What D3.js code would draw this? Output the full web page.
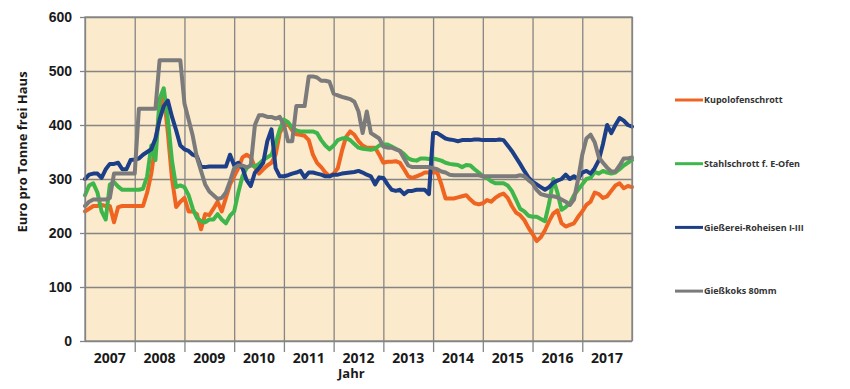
<!DOCTYPE html>
<html>
<head>
<meta charset="utf-8">
<script src="https://cdn.jsdelivr.net/npm/d3@7"></script>
<style>
  body { margin: 0; background: #fff; }
  svg { display: block; font-family: "Open Sans", "DejaVu Sans", sans-serif; }
  .axis text { font-size: 14px; font-weight: 700; fill: #1a1a1a; }
  .axis text.ylabel { font-size: 13px; }
  .axis path.domain { display: none; }
  .grid line { stroke: #858585; stroke-width: 1.3; }
  .grid path.domain { display: none; }
  .series { fill: none; stroke-width: 4; stroke-linejoin: round; stroke-linecap: round; }
  .legend text { font-size: 9px; font-weight: 700; fill: #333; }
</style>
</head>
<body>
<div id="chart"></div>
<script>
// monthly values, Jan 2007 .. Jan 2018 (Euro pro Tonne frei Haus)
var years = ['2007','2008','2009','2010','2011','2012','2013','2014','2015','2016','2017'];

var kupolofen = [
  240,245,250,250,252,250,250,220,248,250,250,250,
  250,250,250,275,310,365,425,458,385,300,248,258,
  265,240,240,235,207,235,233,245,258,240,265,290,
  305,320,340,345,340,322,310,318,325,330,345,385,
  400,402,390,383,382,380,372,345,330,322,312,305,
  310,320,352,378,388,382,370,362,358,358,358,345,
  330,332,332,333,330,318,305,302,305,308,312,312,
  312,312,290,264,264,264,266,268,270,262,255,253,
  255,261,258,265,270,273,265,250,238,233,224,210,
  198,185,192,205,222,236,242,218,212,215,218,230,
  240,252,258,275,272,265,268,278,288,292,283,287,
  285];

var stahlschrott = [
  270,288,292,275,240,225,290,294,286,280,280,280,
  280,280,282,305,362,335,448,468,410,333,285,288,
  285,270,245,228,222,220,225,225,235,225,218,232,
  240,275,305,320,326,323,328,335,340,345,365,392,
  410,405,395,390,388,388,388,388,385,372,362,355,
  362,372,375,376,372,365,358,356,355,354,356,362,
  364,364,360,356,352,346,338,335,334,338,338,337,
  338,336,334,330,328,327,326,322,326,325,318,312,
  305,302,296,292,292,292,288,278,262,245,240,232,
  230,230,226,222,255,300,275,243,248,255,270,280,
  290,300,302,313,310,315,312,310,312,318,325,330,
  335];

var roheisen = [
  300,308,310,310,302,318,328,328,330,318,318,335,
  336,338,345,350,355,375,410,435,445,415,390,362,
  355,352,345,342,322,322,323,323,323,323,323,345,
  325,330,320,298,287,312,320,330,370,392,320,305,
  305,307,310,312,315,303,312,312,310,308,305,305,
  308,308,310,311,312,313,315,312,308,305,290,303,
  302,290,280,278,280,272,278,278,280,280,280,272,
  385,385,380,375,373,372,370,372,372,372,373,373,
  372,372,372,372,373,372,362,352,340,328,315,303,
  295,290,285,280,285,293,297,300,308,300,305,300,
  312,315,310,320,335,365,400,385,400,413,408,400,
  397];

var giesskoks = [
  250,258,262,262,262,262,265,310,310,310,310,310,
  310,430,430,430,430,430,520,520,520,520,520,520,
  440,410,380,340,315,290,277,270,263,265,275,296,
  320,325,325,322,325,400,418,418,415,415,412,415,
  400,370,370,435,435,435,490,490,488,482,482,480,
  458,455,452,450,448,443,425,385,425,385,380,375,
  360,358,358,355,352,338,325,322,322,322,322,322,
  320,318,314,312,308,307,307,307,307,307,307,307,
  305,305,305,305,305,305,305,305,305,307,305,298,
  292,280,272,270,268,268,266,262,258,252,262,300,
  345,375,382,368,340,330,321,314,314,325,338,338,
  340];

var seriesNames = ['Kupolofenschrott', 'Stahlschrott f. E-Ofen', 'Gießerei-Roheisen I-III', 'Gießkoks 80mm'],
    seriesData = [kupolofen, stahlschrott, roheisen, giesskoks],
    seriesColors = ['#ef6421', '#3fb64b', '#1d3f88', '#7b7b7b'];

var width = 850,
    height = 389,
    margin = {top: 17, right: 218, bottom: 48, left: 85},
    innerWidth = width - margin.left - margin.right,
    innerHeight = height - margin.top - margin.bottom,
    xScale = d3.scaleLinear()
                .domain([0, years.length * 12])
                .range([0, innerWidth]),
    yScale = d3.scaleLinear()
                .domain([0, 600])
                .range([innerHeight, 0]);

var svg = d3.select("#chart").append("svg")
      .attr("width", width)
      .attr("height", height)
    .append("g")
      .attr("transform", "translate(" + margin.left + "," + margin.top + ")");

var yearStarts = d3.range(0, years.length * 12 + 1, 12);

// plot background
svg.append("rect")
    .attr("width", innerWidth)
    .attr("height", innerHeight)
    .attr("fill", "#fbeacb");

// grid
svg.append("g")
    .attr("class", "grid")
    .call(d3.axisLeft(yScale).tickValues(d3.range(0, 601, 100)).tickSize(-innerWidth))
    .selectAll("text").remove();

svg.append("g")
    .attr("class", "grid")
    .call(d3.axisBottom(xScale).tickValues(yearStarts).tickSize(innerHeight))
    .selectAll("text").remove();

// axes
svg.append("g")
    .attr("class", "axis axis-y")
    .call(d3.axisLeft(yScale).tickValues(d3.range(0, 601, 100)).tickSize(5).tickPadding(8))
    .selectAll("line").attr("stroke", "#858585").attr("stroke-width", 1.3);

var xAxisG = svg.append("g")
    .attr("class", "axis axis-x")
    .attr("transform", "translate(0," + innerHeight + ")")
    .call(d3.axisBottom(xScale).tickValues(yearStarts.slice(1, -1)).tickSize(11));
xAxisG.selectAll("text").remove();
xAxisG.selectAll("line").attr("stroke", "#858585").attr("stroke-width", 1.3);

svg.append("g")
    .attr("class", "axis")
  .selectAll("text")
    .data(years).enter()
    .append("text")
      .attr("x", function(d, i){ return xScale(i * 12 + 6); })
      .attr("y", innerHeight + 22)
      .attr("text-anchor", "middle")
      .text(function(d){ return d; });

svg.append("g")
    .attr("class", "axis")
  .append("text")
    .attr("x", 253)
    .attr("y", innerHeight + 37)
    .style("font-size", "13px")
    .text("Jahr");

svg.append("g")
    .attr("class", "axis")
  .append("text")
    .attr("class", "ylabel")
    .attr("transform", "translate(" + (-58) + "," + 135 + ") rotate(-90)")
    .attr("text-anchor", "middle")
    .text("Euro pro Tonne frei Haus");

// lines
var line = d3.line()
    .x(function(d, i){ return xScale(i); })
    .y(function(d){ return yScale(d); });

svg.selectAll(".series")
    .data(seriesData).enter()
    .append("path")
      .attr("class", "series")
      .attr("stroke", function(d, i){ return seriesColors[i]; })
      .attr("d", line);

// border
svg.append("rect")
    .attr("width", innerWidth)
    .attr("height", innerHeight)
    .attr("fill", "none")
    .attr("stroke", "#858585")
    .attr("stroke-width", 1.3);

// legend
var legend = svg.append("g")
    .attr("class", "legend")
    .attr("transform", "translate(" + (innerWidth + 43) + ",0)");

var items = legend.selectAll("g")
    .data(seriesNames).enter()
    .append("g")
      .attr("transform", function(d, i){ return "translate(0," + (83 + i * 63.7) + ")"; });

items.append("line")
    .attr("x1", 0).attr("x2", 28)
    .attr("stroke", function(d, i){ return seriesColors[i]; })
    .attr("stroke-width", 3);

items.append("text")
    .attr("x", 29)
    .attr("dy", "0.35em")
    .text(function(d){ return d; });
</script>
</body>
</html>
